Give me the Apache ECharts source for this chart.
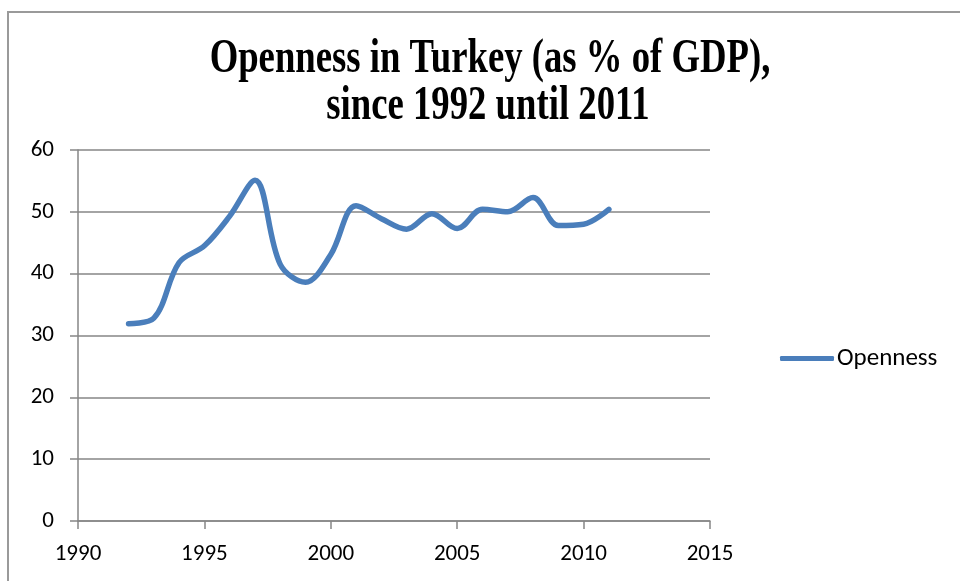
<!DOCTYPE html>
<html>
<head>
<meta charset="utf-8">
<script src="https://cdn.jsdelivr.net/npm/echarts@6/dist/echarts.min.js"></script>
<style>
  html, body { margin: 0; padding: 0; background: #fff; }
  #chart { width: 960px; height: 581px; }
</style>
</head>
<body>
<div id="chart"></div>
<script>
// Trade openness of Turkey, % of GDP
const years = [1992, 1993, 1994, 1995, 1996, 1997, 1998, 1999, 2000, 2001,
               2002, 2003, 2004, 2005, 2006, 2007, 2008, 2009, 2010, 2011];
const openness = [31.9, 32.8, 41.8, 44.5, 49.3, 55.1, 41.5, 38.6, 43.1, 51.0,
                  48.9, 47.2, 49.7, 47.3, 50.4, 50.0, 52.3, 47.8, 48.0, 50.4];
const yTicks = [0, 10, 20, 30, 40, 50, 60];
const xTicks = [1990, 1995, 2000, 2005, 2010, 2015];
const titleLines = ['Openness in Turkey (as % of GDP),', 'since 1992 until 2011'];

const labelFont = 'Carlito, Lato, "Open Sans", sans-serif';
const axisGray = '#868686';

// tall, condensed serif heading
const titleStyle = (text) => ({
  text: text,
  fontFamily: '"Liberation Serif", "Times New Roman", serif',
  fontWeight: 'bold',
  fontSize: 48,
  fill: '#000',
  align: 'center',
  verticalAlign: 'top'
});

const chart = echarts.init(document.getElementById('chart'));
chart.setOption({
  animation: false,
  backgroundColor: '#fff',
  graphic: [
    {
      type: 'rect',
      shape: { x: 8, y: 12, width: 980, height: 600 },
      style: { fill: 'none', stroke: '#9a9a9a', lineWidth: 2 },
      silent: true
    },
    { type: 'text', x: 490, y: 36, scaleX: 0.765, style: titleStyle(titleLines[0]), silent: true },
    { type: 'text', x: 488, y: 83, scaleX: 0.765, style: titleStyle(titleLines[1]), silent: true }
  ],
  legend: {
    data: ['Openness'],
    left: 775,
    top: 341,
    itemWidth: 54,
    itemHeight: 5,
    itemGap: 4,
    icon: 'roundRect',
    textStyle: { fontFamily: labelFont, fontSize: 25, color: '#000', padding: [0, 0, 0, -2] }
  },
  grid: { left: 78, right: 250, top: 150, bottom: 60 },
  xAxis: {
    type: 'value',
    min: xTicks[0],
    max: xTicks[xTicks.length - 1],
    interval: 5,
    axisLine: { lineStyle: { color: axisGray, width: 1.5 } },
    axisTick: { show: true, length: 8, lineStyle: { color: axisGray, width: 1.5 } },
    splitLine: { show: false },
    axisLabel: {
      fontFamily: labelFont, fontSize: 23, color: '#000', margin: 22,
      formatter: v => String(v)
    }
  },
  yAxis: {
    type: 'value',
    min: yTicks[0],
    max: yTicks[yTicks.length - 1],
    interval: 10,
    axisLine: { show: true, lineStyle: { color: axisGray, width: 1.5 } },
    axisTick: { show: true, length: 8, lineStyle: { color: axisGray, width: 1.5 } },
    splitLine: { show: true, lineStyle: { color: axisGray, width: 1.5 } },
    axisLabel: { fontFamily: labelFont, fontSize: 23, color: '#000', margin: 24 }
  },
  series: [{
    name: 'Openness',
    type: 'line',
    data: years.map((y, i) => [y, openness[i]]),
    smooth: 0.35,
    showSymbol: false,
    symbol: 'none',
    lineStyle: { color: '#4A7EBB', width: 5.5, cap: 'round', join: 'round' },
    itemStyle: { color: '#4A7EBB' }
  }]
});
</script>
</body>
</html>
